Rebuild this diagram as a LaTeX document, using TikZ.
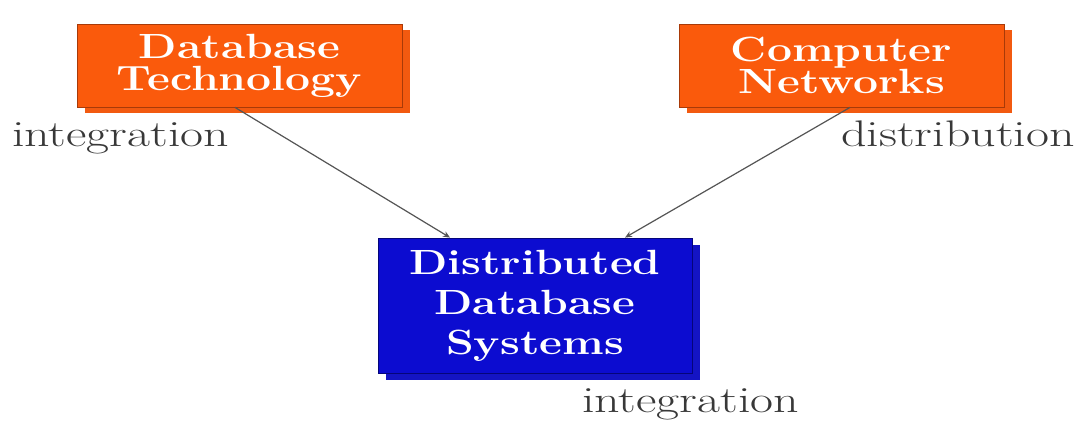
\documentclass[tikz,border=0pt]{standalone}
\usepackage{graphicx}
\usetikzlibrary{arrows.meta,shadows,calc}
\definecolor{boxorange}{HTML}{FA5A0C}
\definecolor{shadeorange}{HTML}{F25A10}
\definecolor{edgeorange}{HTML}{A83A08}
\definecolor{boxblue}{HTML}{0C0CD0}
\definecolor{shadeblue}{HTML}{1414C4}
\definecolor{edgeblue}{HTML}{05057A}
\definecolor{labelgrey}{HTML}{383838}
\definecolor{linegrey}{HTML}{555555}
\newcommand\boxwide[1]{\scalebox{1.27}[1]{#1}}
\newcommand\labelwide[1]{\scalebox{1.35}[1]{#1}}
\tikzset{
  topicbox/.style={rectangle, inner sep=0pt, align=center, text=white,
    font=\fontsize{35}{32}\selectfont\bfseries, draw=edgeorange, line width=0.8pt,
    fill=boxorange, minimum width=325pt, minimum height=83pt,
    drop shadow={shadow xshift=8pt, shadow yshift=-6pt, fill=shadeorange, opacity=1}},
  resultbox/.style={rectangle, inner sep=0pt, align=center, text=white,
    font=\fontsize{35}{40}\selectfont\bfseries, draw=edgeblue, line width=0.8pt,
    fill=boxblue, minimum width=314pt, minimum height=135pt,
    drop shadow={shadow xshift=8pt, shadow yshift=-7pt, fill=shadeblue, opacity=1}},
  edgelabel/.style={inner sep=0pt, text=labelgrey, font=\fontsize{37}{40}\selectfont},
  feed/.style={draw=linegrey, line width=1.2pt, -{Stealth[length=7pt,width=6pt]}}
}
\begin{document}
\begin{tikzpicture}[x=1pt,y=-1pt]
\useasboundingbox[fill=white] (0,0) rectangle (1077,422);
\node[topicbox] (db) at (239.5,65.5) {\boxwide{Database}\\\boxwide{Technology}};
\node[topicbox] (cn) at (841.5,65.5) {\boxwide{Computer}\\\boxwide{Networks}};
\node[resultbox] (dds) at (535,305.5) {\boxwide{Distributed}\\\boxwide{Database}\\\boxwide{Systems}};
\node[edgelabel, anchor=base west] (l1) at (12,147) {\labelwide{integration}};
\node[edgelabel, anchor=base east] (l2) at (1075,147) {\labelwide{distribution}};
\node[edgelabel, anchor=base west] (l3) at (582,412) {\labelwide{integration}};
\draw[feed] ([xshift=-4.5pt]db.south) -- ([xshift=-85pt]dds.north);
\draw[feed] ([xshift=8.5pt]cn.south) -- ([xshift=90pt]dds.north);
\end{tikzpicture}
\end{document}
